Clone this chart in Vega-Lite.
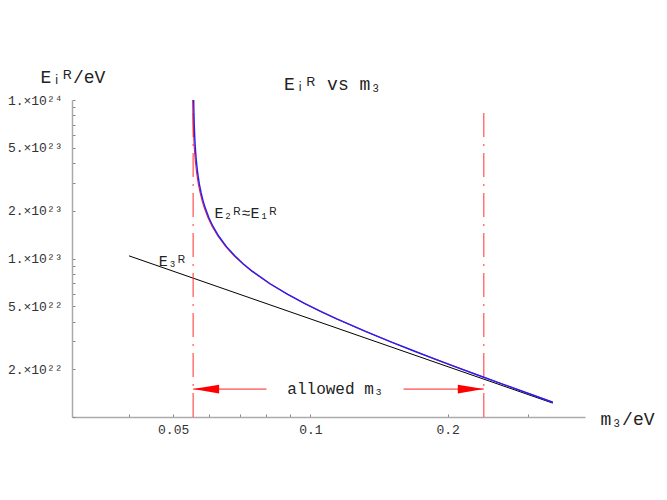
{
  "$schema": "https://vega.github.io/schema/vega-lite/v6.json",
  "width": 513,
  "height": 317,
  "autosize": {"type": "none"},
  "padding": {"left": 72, "top": 100, "right": 82, "bottom": 83},
  "background": "white",
  "config": {"view": {"stroke": null}, "font": "Liberation Mono, DejaVu Sans Mono"},
  "title": {"text": "Eᵢᴿ vs m₃", "frame": "group", "baseline": "alphabetic", "offset": 10, "dx": 4, "dy": 50, "fontSize": 18, "fontWeight": "normal", "color": "#222", "font": "Liberation Mono, DejaVu Sans Mono"},
  "datasets": {
    "e3": [{"m3": 0.04, "E": 1.0395e23}, {"m3": 0.34, "E": 1.2229e22}],
    "e1": [
      {"m3": 0.055456, "E": 9.995e23}, {"m3": 0.055526, "E": 8.316e23}, {"m3": 0.055625, "E": 6.93e23},
      {"m3": 0.055741, "E": 5.94e23}, {"m3": 0.055875, "E": 5.1975e23}, {"m3": 0.056028, "E": 4.62e23},
      {"m3": 0.056197, "E": 4.158e23}, {"m3": 0.056587, "E": 3.465e23}, {"m3": 0.057045, "E": 2.97e23},
      {"m3": 0.057568, "E": 2.599e23}, {"m3": 0.058156, "E": 2.31e23}, {"m3": 0.058806, "E": 2.079e23},
      {"m3": 0.059892, "E": 1.808e23}, {"m3": 0.061107, "E": 1.599e23}, {"m3": 0.062914, "E": 1.386e23},
      {"m3": 0.065445, "E": 1.188e23}, {"m3": 0.06825, "E": 1.0395e23}, {"m3": 0.071296, "E": 9.24e22},
      {"m3": 0.074553, "E": 8.316e22}, {"m3": 0.081597, "E": 6.93e22}, {"m3": 0.089208, "E": 5.94e22},
      {"m3": 0.097253, "E": 5.1975e22}, {"m3": 0.105632, "E": 4.62e22}, {"m3": 0.114272, "E": 4.158e22},
      {"m3": 0.132129, "E": 3.465e22}, {"m3": 0.150526, "E": 2.97e22}, {"m3": 0.169287, "E": 2.599e22},
      {"m3": 0.188303, "E": 2.31e22}, {"m3": 0.207504, "E": 2.079e22}, {"m3": 0.236555, "E": 1.808e22},
      {"m3": 0.265816, "E": 1.599e22}, {"m3": 0.305054, "E": 1.386e22}, {"m3": 0.340027, "E": 1.2393e22}
    ],
    "e2": [
      {"m3": 0.055157, "E": 9.995e23}, {"m3": 0.055227, "E": 8.316e23}, {"m3": 0.055326, "E": 6.93e23},
      {"m3": 0.055444, "E": 5.94e23}, {"m3": 0.055579, "E": 5.1975e23}, {"m3": 0.055732, "E": 4.62e23},
      {"m3": 0.055902, "E": 4.158e23}, {"m3": 0.056294, "E": 3.465e23}, {"m3": 0.056754, "E": 2.97e23},
      {"m3": 0.05728, "E": 2.599e23}, {"m3": 0.057871, "E": 2.31e23}, {"m3": 0.058523, "E": 2.079e23},
      {"m3": 0.059615, "E": 1.808e23}, {"m3": 0.060836, "E": 1.599e23}, {"m3": 0.06265, "E": 1.386e23},
      {"m3": 0.065192, "E": 1.188e23}, {"m3": 0.068007, "E": 1.0395e23}, {"m3": 0.071063, "E": 9.24e22},
      {"m3": 0.07433, "E": 8.316e22}, {"m3": 0.081394, "E": 6.93e22}, {"m3": 0.089023, "E": 5.94e22},
      {"m3": 0.097082, "E": 5.1975e22}, {"m3": 0.105475, "E": 4.62e22}, {"m3": 0.114127, "E": 4.158e22},
      {"m3": 0.132004, "E": 3.465e22}, {"m3": 0.150416, "E": 2.97e22}, {"m3": 0.169189, "E": 2.599e22},
      {"m3": 0.188215, "E": 2.31e22}, {"m3": 0.207425, "E": 2.079e22}, {"m3": 0.236485, "E": 1.808e22},
      {"m3": 0.265754, "E": 1.599e22}, {"m3": 0.305, "E": 1.386e22}, {"m3": 0.339978, "E": 1.2393e22}
    ],
    "bounds": [{"m3": 0.0553, "E": 1e22, "Etop": 8.8e23}, {"m3": 0.24, "E": 1e22, "Etop": 8.8e23}],
    "segments": [{"m3": 0.0553, "m3end": 0.0801, "E": 1.5e22}, {"m3": 0.16, "m3end": 0.24, "E": 1.5e22}],
    "arrows": [{"m3": 0.0553, "E": 1.5e22, "dir": "left"}, {"m3": 0.24, "E": 1.5e22, "dir": "right"}],
    "labels": [
      {"m3": 0.0722, "E": 1.95e23, "text": "E₂ᴿ≈E₁ᴿ", "size": "s"},
      {"m3": 0.0498, "E": 9.7e22, "text": "E₃ᴿ", "size": "s"},
      {"m3": 0.1134, "E": 1.5e22, "text": "allowed m₃", "size": "l"}
    ]
  },
  "layer": [
    {
      "data": {"name": "e3"},
      "mark": {"type": "line", "color": "black", "strokeWidth": 1, "clip": true},
      "encoding": {
        "x": {
          "field": "m3", "type": "quantitative",
          "scale": {"type": "log", "domain": [0.03, 0.4], "nice": false},
          "axis": {
            "title": "m₃/eV", "titleFontSize": 18, "titleFontWeight": "normal", "titleColor": "#222",
            "titleAngle": 0, "titleAlign": "left", "titleBaseline": "alphabetic", "titleX": 528, "titleY": 7,
            "values": [0.04, 0.05, 0.06, 0.07, 0.08, 0.09, 0.1, 0.2, 0.3],
            "labelExpr": "datum.value == 0.05 ? '0.05' : datum.value == 0.1 ? '0.1' : datum.value == 0.2 ? '0.2' : ''",
            "labelFontSize": 13, "labelColor": "#333", "labelPadding": 9, "labelOverlap": false, "labelFlush": false,
            "tickSize": -3, "tickColor": "#888", "domainColor": "#aaa", "domainWidth": 1.5, "grid": false
          }
        },
        "y": {
          "field": "E", "type": "quantitative",
          "scale": {"type": "log", "domain": [1e22, 1e24], "nice": false},
          "axis": {
            "title": "Eᵢᴿ/eV", "titleFontSize": 18, "titleFontWeight": "normal", "titleColor": "#222",
            "titleAngle": 0, "titleAlign": "left", "titleBaseline": "alphabetic", "titleX": -32, "titleY": -18,
            "values": [1e22, 2e22, 3e22, 4e22, 5e22, 6e22, 7e22, 8e22, 9e22, 1e23, 2e23, 3e23, 4e23, 5e23, 6e23, 7e23, 8e23, 9e23, 1e24],
            "labelExpr": "datum.value > 9.5e23 ? '1.×10²⁴' : (datum.value > 4.9e23 && datum.value < 5.1e23) ? '5.×10²³' : (datum.value > 1.9e23 && datum.value < 2.1e23) ? '2.×10²³' : (datum.value > 0.99e23 && datum.value < 1.01e23) ? '1.×10²³' : (datum.value > 4.9e22 && datum.value < 5.1e22) ? '5.×10²²' : (datum.value > 1.9e22 && datum.value < 2.1e22) ? '2.×10²²' : ''",
            "labelFontSize": 13, "labelColor": "#333", "labelPadding": 13, "labelOverlap": false, "labelFlush": false,
            "tickSize": -3, "tickColor": "#888", "domainColor": "#aaa", "domainWidth": 1.5, "grid": false
          }
        }
      }
    },
    {
      "data": {"name": "bounds"},
      "mark": {"type": "rule", "color": "#ff3030", "strokeWidth": 1, "strokeDash": [24, 7, 2, 7]},
      "encoding": {
        "x": {"field": "m3", "type": "quantitative"},
        "y": {"field": "E", "type": "quantitative"},
        "y2": {"field": "Etop"}
      }
    },
    {
      "data": {"name": "e2"},
      "mark": {"type": "line", "color": "#ff2020", "strokeWidth": 1.1, "clip": true},
      "encoding": {
        "x": {"field": "m3", "type": "quantitative"},
        "y": {"field": "E", "type": "quantitative"}
      }
    },
    {
      "data": {"name": "e1"},
      "mark": {"type": "line", "color": "#2020ff", "strokeWidth": 1.4, "clip": true},
      "encoding": {
        "x": {"field": "m3", "type": "quantitative"},
        "y": {"field": "E", "type": "quantitative"}
      }
    },
    {
      "data": {"name": "segments"},
      "mark": {"type": "rule", "color": "#ff2020", "strokeWidth": 1},
      "encoding": {
        "x": {"field": "m3", "type": "quantitative"},
        "x2": {"field": "m3end"},
        "y": {"field": "E", "type": "quantitative"}
      }
    },
    {
      "data": {"name": "arrows"},
      "mark": {"type": "point", "filled": true, "color": "#ff0000", "opacity": 1, "size": 676, "strokeWidth": 0},
      "encoding": {
        "x": {"field": "m3", "type": "quantitative"},
        "y": {"field": "E", "type": "quantitative"},
        "shape": {"field": "dir", "type": "nominal", "scale": {"domain": ["left", "right"], "range": ["M0,0L2,-0.33L2,0.33Z", "M0,0L-2,-0.33L-2,0.33Z"]}, "legend": null}
      }
    },
    {
      "data": {"name": "labels"},
      "mark": {"type": "text", "color": "#222", "baseline": "middle", "align": "center", "font": "Liberation Mono, DejaVu Sans Mono"},
      "encoding": {
        "x": {"field": "m3", "type": "quantitative"},
        "y": {"field": "E", "type": "quantitative"},
        "text": {"field": "text"},
        "size": {"field": "size", "type": "nominal", "scale": {"domain": ["s", "l"], "range": [15, 16]}, "legend": null}
      }
    }
  ]
}
